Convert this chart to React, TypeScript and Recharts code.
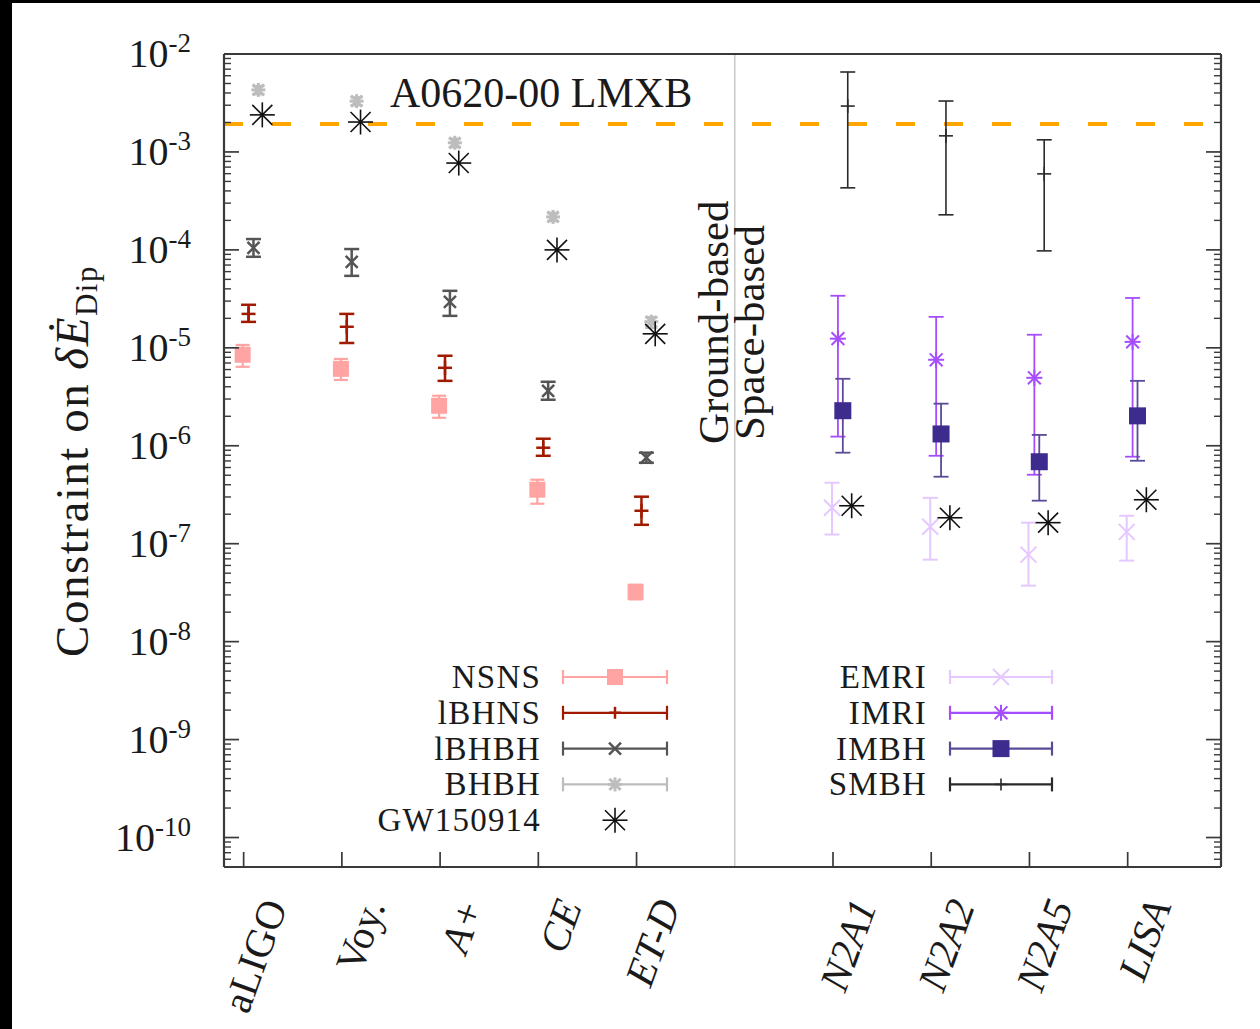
import React from "react";
import { ScatterChart, Scatter, XAxis, YAxis, ErrorBar, ReferenceLine } from "recharts";

document.body.style.margin = "0";

const W = 1260;
const H = 1029;
const SERIF = '"Liberation Serif", "DejaVu Serif", serif';

// detector positions on the x axis (6 is the ground/space divider)
const groundPos = [1, 2, 3, 4, 5];
const spacePos = [7, 8, 9, 10];
const allPos = [1, 2, 3, 4, 5, 7, 8, 9, 10];
const detectorNames = ["aLIGO", "Voy.", "A+", "CE", "ET-D", "", "N2A1", "N2A2", "N2A5", "LISA"];
const italicNames = ["A+", "CE", "ET-D", "N2A1", "N2A2", "N2A5", "LISA"];

const lmxbBound = 1.93e-3;

// ground-based sources: value, lower end, upper end
const nsnsVal = [8.5e-6, 6.1e-6, 2.56e-6, 3.56e-7, 3.23e-8];
const nsnsLo = [6.4e-6, 4.7e-6, 1.93e-6, 2.56e-7, 2.7e-8];
const nsnsHi = [1.07e-5, 7.7e-6, 3.24e-6, 4.5e-7, 3.8e-8];

const lbhnsVal = [2.22e-5, 1.64e-5, 6.25e-6, 9.55e-7, 2.17e-7];
const lbhnsLo = [1.84e-5, 1.12e-5, 4.6e-6, 7.9e-7, 1.56e-7];
const lbhnsHi = [2.75e-5, 2.22e-5, 8.3e-6, 1.18e-6, 3.02e-7];

const lbhbhVal = [1.05e-4, 7.55e-5, 2.94e-5, 3.64e-6, 7.55e-7];
const lbhbhLo = [8.5e-5, 5.43e-5, 2.12e-5, 2.95e-6, 6.7e-7];
const lbhbhHi = [1.29e-4, 1.02e-4, 3.82e-5, 4.5e-6, 8.5e-7];

const bhbhVal = [4.3e-3, 3.3e-3, 1.24e-3, 2.17e-4, 1.85e-5];
const bhbhLo = [3.9e-3, 3.0e-3, 1.12e-3, 1.97e-4, 1.6e-5];
const bhbhHi = [4.7e-3, 3.6e-3, 1.36e-3, 2.38e-4, 2.05e-5];

const gwVal = [2.39e-3, 2.02e-3, 7.7e-4, 1.0e-4, 1.39e-5, 2.44e-7, 1.84e-7, 1.64e-7, 2.81e-7];

// space-based sources
const emriVal = [2.33e-7, 1.49e-7, 7.73e-8, 1.32e-7];
const emriLo = [1.24e-7, 6.87e-8, 3.73e-8, 6.72e-8];
const emriHi = [4.19e-7, 2.94e-7, 1.64e-7, 1.93e-7];

const imriVal = [1.24e-5, 7.55e-6, 4.94e-6, 1.15e-5];
const imriLo = [1.24e-6, 7.9e-7, 5.06e-7, 7.73e-7];
const imriHi = [3.4e-5, 2.07e-5, 1.36e-5, 3.23e-5];

const imbhVal = [2.28e-6, 1.32e-6, 6.87e-7, 2.02e-6];
const imbhLo = [8.5e-7, 4.83e-7, 2.75e-7, 7.03e-7];
const imbhHi = [4.83e-6, 2.69e-6, 1.29e-6, 4.6e-6];

const smbhPos = [7, 8, 9];
const smbhVal = [2.94e-3, 1.46e-3, 5.97e-4];
const smbhLo = [4.3e-4, 2.28e-4, 9.77e-5];
const smbhHi = [6.55e-3, 3.31e-3, 1.33e-3];

// log axis tick positions: decades plus 2..9 sub-ticks
const yAllTicks: number[] = [];
for (let k = -11; k <= -2; k++) {
  for (let m = 1; m <= 9; m++) {
    const v = m * Math.pow(10, k);
    if (v > 5.01e-11 && v <= 1.0001e-2) yAllTicks.push(v);
  }
}
const isDecade = (v: number) => Math.abs(Math.log10(v) - Math.round(Math.log10(v))) < 1e-6;

function withErr(pos: number[], val: number[], lo: number[], hi: number[], shift: number) {
  return pos.map((p, i) => ({ x: p + shift, y: val[i], err: [val[i] - lo[i], hi[i] - val[i]] }));
}

const nsnsData = withErr(groundPos, nsnsVal, nsnsLo, nsnsHi, -0.01);
const lbhnsData = withErr(groundPos, lbhnsVal, lbhnsLo, lbhnsHi, 0.05);
const lbhbhData = withErr(groundPos, lbhbhVal, lbhbhLo, lbhbhHi, 0.1);
const bhbhData = withErr(groundPos, bhbhVal, bhbhLo, bhbhHi, 0.15);
const emriData = withErr(spacePos, emriVal, emriLo, emriHi, -0.01);
const imriData = withErr(spacePos, imriVal, imriLo, imriHi, 0.05);
const imbhData = withErr(spacePos, imbhVal, imbhLo, imbhHi, 0.1);
const smbhData = withErr(smbhPos, smbhVal, smbhLo, smbhHi, 0.15);
const gwData = allPos.map((p, i) => ({ x: p + 0.19, y: gwVal[i] }));

const C = {
  nsns: "#ffa3a3",
  lbhns: "#a01a00",
  lbhbh: "#555555",
  bhbh: "#bdbdbd",
  gw: "#111111",
  emri: "#e4c8ff",
  imri: "#a64dff",
  imbh: "#3e2b8e",
  imbhBar: "#5a4b98",
  smbh: "#2a2a2a",
  axis: "#3a3a3a",
};

// marker glyphs
function square(cx: number, cy: number, s: number, fill: string) {
  return <rect x={cx - s / 2} y={cy - s / 2} width={s} height={s} fill={fill} />;
}
function cross(cx: number, cy: number, r: number, stroke: string, w: number) {
  return (
    <g stroke={stroke} strokeWidth={w}>
      <line x1={cx - r} y1={cy - r} x2={cx + r} y2={cy + r} />
      <line x1={cx - r} y1={cy + r} x2={cx + r} y2={cy - r} />
    </g>
  );
}
function plus(cx: number, cy: number, r: number, stroke: string, w: number) {
  return (
    <g stroke={stroke} strokeWidth={w}>
      <line x1={cx - r} y1={cy} x2={cx + r} y2={cy} />
      <line x1={cx} y1={cy - r} x2={cx} y2={cy + r} />
    </g>
  );
}
function star(cx: number, cy: number, r: number, stroke: string, w: number, dot = false) {
  const d = r * 0.8;
  return (
    <g stroke={stroke} strokeWidth={w}>
      <line x1={cx - r} y1={cy} x2={cx + r} y2={cy} />
      <line x1={cx} y1={cy - r} x2={cx} y2={cy + r} />
      <line x1={cx - d} y1={cy - d} x2={cx + d} y2={cy + d} />
      <line x1={cx - d} y1={cy + d} x2={cx + d} y2={cy - d} />
      {dot && <circle cx={cx} cy={cy} r={1.8} fill={stroke} stroke="none" />}
    </g>
  );
}

const nsnsShape = (p: any) => square(p.cx, p.cy, 16, C.nsns);
const lbhnsShape = (p: any) => plus(p.cx, p.cy, 7, C.lbhns, 2.5);
const lbhbhShape = (p: any) => cross(p.cx, p.cy, 6, C.lbhbh, 2.5);
const bhbhShape = (p: any) => star(p.cx, p.cy, 7, C.bhbh, 3);
const gwShape = (p: any) => star(p.cx, p.cy, 12.5, C.gw, 1.6, true);
const emriShape = (p: any) => cross(p.cx, p.cy, 8, C.emri, 2);
const imriShape = (p: any) => star(p.cx, p.cy, 8, C.imri, 2);
const imbhShape = (p: any) => square(p.cx, p.cy, 17, C.imbh);
const smbhShape = (p: any) => plus(p.cx, p.cy, 7, C.smbh, 1.6);

// left axis: inward tick lines plus 10^n labels
const YTickLeft = (props: any) => {
  const { x, y, payload } = props;
  const major = isDecade(payload.value);
  const e = Math.round(Math.log10(payload.value));
  return (
    <g>
      <line x1={x} y1={y} x2={x + (major ? 15 : 7)} y2={y} stroke={C.axis} strokeWidth={major ? 1.7 : 1.4} />
      {major && (
        <text x={x - 33} y={y} textAnchor="end" fontFamily={SERIF} fill="#1a1a1a">
          <tspan fontSize={40} dy={13}>10</tspan>
          <tspan fontSize={27} dy={-15}>{e}</tspan>
        </text>
      )}
    </g>
  );
};

const YTickRight = (props: any) => {
  const { x, y, payload } = props;
  const major = isDecade(payload.value);
  return <line x1={x} y1={y} x2={x - (major ? 15 : 7)} y2={y} stroke={C.axis} strokeWidth={major ? 1.7 : 1.4} />;
};

const XTickBottom = (props: any) => {
  const { x, y, payload } = props;
  const name = detectorNames[Math.round(payload.value) - 1];
  const ax = x + 44;
  const ay = y + 39;
  return (
    <g>
      <line x1={x} y1={y} x2={x} y2={y - 15} stroke={C.axis} strokeWidth={1.7} />
      <text
        x={ax}
        y={ay}
        transform={`rotate(-70, ${ax}, ${ay})`}
        textAnchor="end"
        fontFamily={SERIF}
        fontSize={41}
        fontStyle={italicNames.includes(name) ? "italic" : "normal"}
        fill="#1a1a1a"
      >
        {name}
      </text>
    </g>
  );
};

const XTickTop = (props: any) => {
  const { x, y } = props;
  return <line x1={x} y1={y} x2={x} y2={y + 15} stroke={C.axis} strokeWidth={1.7} />;
};

const legendLeft = [
  { name: "NSNS", color: C.nsns, sym: (x: number, y: number) => square(x, y, 16, C.nsns) },
  { name: "lBHNS", color: C.lbhns, sym: (x: number, y: number) => plus(x, y, 6, C.lbhns, 2.5) },
  { name: "lBHBH", color: C.lbhbh, sym: (x: number, y: number) => cross(x, y, 6, C.lbhbh, 2.5) },
  { name: "BHBH", color: C.bhbh, sym: (x: number, y: number) => star(x, y, 7, C.bhbh, 3) },
  { name: "GW150914", color: "", sym: (x: number, y: number) => star(x, y, 12.5, C.gw, 1.6, true) },
];
const legendRight = [
  { name: "EMRI", color: C.emri, sym: (x: number, y: number) => cross(x, y, 8, C.emri, 2) },
  { name: "IMRI", color: C.imri, sym: (x: number, y: number) => star(x, y, 8, C.imri, 2) },
  { name: "IMBH", color: C.imbhBar, sym: (x: number, y: number) => square(x, y, 17, C.imbh) },
  { name: "SMBH", color: C.smbh, sym: (x: number, y: number) => plus(x, y, 6, C.smbh, 1.6) },
];

function LegendBlock({ items, textX, x0, x1 }: { items: typeof legendLeft; textX: number; x0: number; x1: number }) {
  const mid = (x0 + x1) / 2;
  return (
    <g>
      {items.map((it, i) => {
        const y = 677 + i * 35.8;
        return (
          <g key={it.name}>
            <text
              x={textX}
              y={y + 11}
              textAnchor="end"
              fontFamily={SERIF}
              fontSize={33}
              letterSpacing={1.2}
              fill="#1a1a1a"
            >
              {it.name}
            </text>
            {it.color && (
              <g stroke={it.color} strokeWidth={2.2}>
                <line x1={x0} y1={y} x2={x1} y2={y} />
                <line x1={x0} y1={y - 7} x2={x0} y2={y + 7} />
                <line x1={x1} y1={y - 7} x2={x1} y2={y + 7} />
              </g>
            )}
            {it.sym(mid, y)}
          </g>
        );
      })}
    </g>
  );
}

const axisLine = { stroke: C.axis, strokeWidth: 2.2 };

export default function App() {
  return (
    <div style={{ position: "relative", width: W, height: H, background: "#fff", overflow: "hidden" }}>
      <div style={{ position: "absolute", left: 0, top: 0, width: 12, height: H, background: "#000" }} />
      <div style={{ position: "absolute", left: 0, top: 0, width: W, height: 3, background: "#000" }} />
      <div style={{ position: "absolute", left: 0, top: 0 }}>
        <ScatterChart width={W} height={H} margin={{ top: 53, right: 38, bottom: 102, left: 164 }}>
          <XAxis
            xAxisId="b"
            type="number"
            dataKey="x"
            domain={[0.8, 10.95]}
            allowDataOverflow
            ticks={allPos}
            interval={0}
            height={60}
            tickSize={0}
            tickMargin={0}
            tickLine={false}
            tick={<XTickBottom />}
            axisLine={axisLine}
          />
          <XAxis
            xAxisId="t"
            orientation="top"
            type="number"
            domain={[0.8, 10.95]}
            allowDataOverflow
            ticks={allPos}
            interval={0}
            height={1}
            tickSize={0}
            tickMargin={0}
            tickLine={false}
            tick={<XTickTop />}
            axisLine={axisLine}
          />
          <YAxis
            yAxisId="l"
            type="number"
            dataKey="y"
            scale="log"
            domain={[5e-11, 1e-2]}
            allowDataOverflow
            ticks={yAllTicks}
            interval={0}
            width={60}
            tickSize={0}
            tickMargin={0}
            tickLine={false}
            tick={<YTickLeft />}
            axisLine={axisLine}
          />
          <YAxis
            yAxisId="r"
            orientation="right"
            type="number"
            scale="log"
            domain={[5e-11, 1e-2]}
            allowDataOverflow
            ticks={yAllTicks}
            interval={0}
            width={1}
            tickSize={0}
            tickMargin={0}
            tickLine={false}
            tick={<YTickRight />}
            axisLine={axisLine}
          />

          <ReferenceLine xAxisId="b" yAxisId="l" x={6} stroke="#c8c8c8" strokeWidth={1.5} />
          <ReferenceLine
            xAxisId="b"
            yAxisId="l"
            y={lmxbBound}
            stroke="#ffa500"
            strokeWidth={4}
            strokeDasharray="19 29"
          />

          <Scatter xAxisId="b" yAxisId="l" data={nsnsData} shape={nsnsShape} isAnimationActive={false}>
            <ErrorBar dataKey="err" direction="y" width={7} stroke={C.nsns} strokeWidth={2.2} isAnimationActive={false} />
          </Scatter>
          <Scatter xAxisId="b" yAxisId="l" data={lbhnsData} shape={lbhnsShape} isAnimationActive={false}>
            <ErrorBar dataKey="err" direction="y" width={7.5} stroke={C.lbhns} strokeWidth={2.5} isAnimationActive={false} />
          </Scatter>
          <Scatter xAxisId="b" yAxisId="l" data={lbhbhData} shape={lbhbhShape} isAnimationActive={false}>
            <ErrorBar dataKey="err" direction="y" width={7.5} stroke={C.lbhbh} strokeWidth={2.5} isAnimationActive={false} />
          </Scatter>
          <Scatter xAxisId="b" yAxisId="l" data={bhbhData} shape={bhbhShape} isAnimationActive={false}>
            <ErrorBar dataKey="err" direction="y" width={6} stroke={C.bhbh} strokeWidth={2.5} isAnimationActive={false} />
          </Scatter>
          <Scatter xAxisId="b" yAxisId="l" data={emriData} shape={emriShape} isAnimationActive={false}>
            <ErrorBar dataKey="err" direction="y" width={7.5} stroke={C.emri} strokeWidth={2} isAnimationActive={false} />
          </Scatter>
          <Scatter xAxisId="b" yAxisId="l" data={imriData} shape={imriShape} isAnimationActive={false}>
            <ErrorBar dataKey="err" direction="y" width={7.5} stroke={C.imri} strokeWidth={1.8} isAnimationActive={false} />
          </Scatter>
          <Scatter xAxisId="b" yAxisId="l" data={imbhData} shape={imbhShape} isAnimationActive={false}>
            <ErrorBar dataKey="err" direction="y" width={7.5} stroke={C.imbhBar} strokeWidth={1.8} isAnimationActive={false} />
          </Scatter>
          <Scatter xAxisId="b" yAxisId="l" data={smbhData} shape={smbhShape} isAnimationActive={false}>
            <ErrorBar dataKey="err" direction="y" width={7.5} stroke={C.smbh} strokeWidth={1.6} isAnimationActive={false} />
          </Scatter>
          <Scatter xAxisId="b" yAxisId="l" data={gwData} shape={gwShape} isAnimationActive={false} />
        </ScatterChart>
      </div>

      <svg width={W} height={H} style={{ position: "absolute", left: 0, top: 0, pointerEvents: "none" }}>
        <text
          x={88}
          y={461}
          transform="rotate(-90, 88, 461)"
          textAnchor="middle"
          fontFamily={SERIF}
          fontSize={47}
          letterSpacing={1.5}
          fill="#1a1a1a"
        >
          Constraint on <tspan fontStyle="italic">δĖ</tspan>
          <tspan fontSize={31} dy={9}>Dip</tspan>
        </text>
        <text x={390} y={107} fontFamily={SERIF} fontSize={42} fill="#1a1a1a">
          A0620-00 LMXB
        </text>
        <text x={728} y={444} transform="rotate(-90, 728, 444)" fontFamily={SERIF} fontSize={43} fill="#1a1a1a">
          Ground-based
        </text>
        <text x={764} y={440} transform="rotate(-90, 764, 440)" fontFamily={SERIF} fontSize={43} fill="#1a1a1a">
          Space-based
        </text>
        <LegendBlock items={legendLeft} textX={541} x0={563} x1={667} />
        <LegendBlock items={legendRight} textX={927} x0={950} x1={1052} />
      </svg>
    </div>
  );
}
